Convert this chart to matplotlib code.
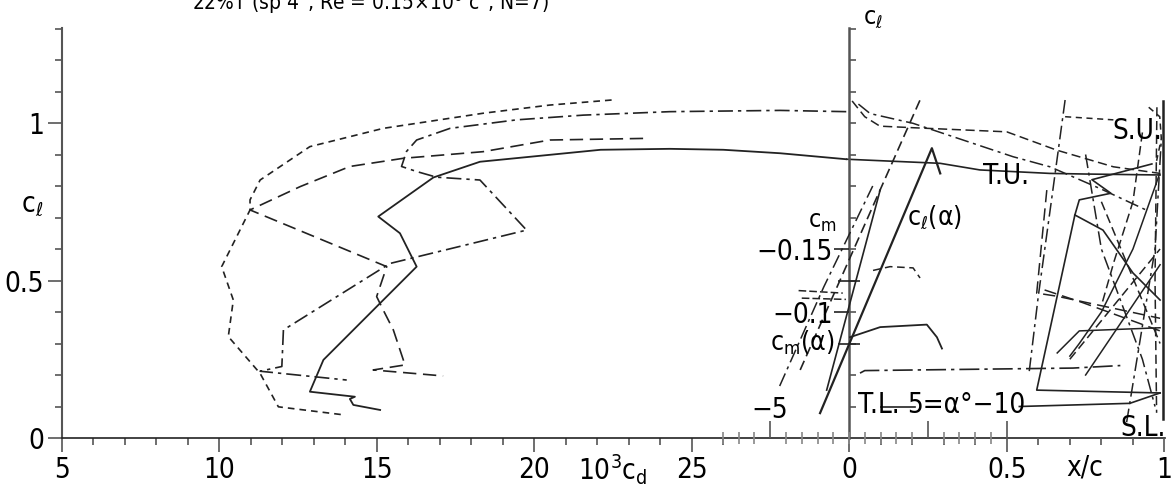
import matplotlib
matplotlib.use("Agg")
from matplotlib import pyplot as plt
import numpy as np

plt.rcParams['font.family'] = ['DejaVu Sans']
plt.rcParams['font.stretch'] = 'condensed'
plt.rcParams['mathtext.fontset'] = 'custom'
plt.rcParams['mathtext.rm'] = 'DejaVu Sans:stretch=condensed'
plt.rcParams['mathtext.it'] = 'DejaVu Sans:stretch=condensed'

INK = '#222222'
AXC = '#555555'
DD = (9, 3, 2, 3)

# ---- drag polars: 10^3 cd vs cl ----
solid_cd = [15.10, 14.25, 14.14, 14.30, 12.87, 13.30, 16.26, 15.73, 15.04, 16.79, 18.27, 22.1, 24.3, 26.0, 27.8, 29.9]
solid_cl = [0.089, 0.105, 0.124, 0.131, 0.147, 0.248, 0.544, 0.650, 0.703, 0.827, 0.877, 0.915, 0.918, 0.915, 0.904, 0.885]

dash_cd = [22.45, 20.49, 18.37, 15.2, 12.87, 11.29, 10.97, 10.97, 10.07, 10.44, 10.28, 11.29, 11.87, 13.98]
dash_cl = [1.073, 1.057, 1.031, 0.983, 0.925, 0.819, 0.756, 0.724, 0.544, 0.438, 0.322, 0.205, 0.099, 0.073]

ldash_cd = [23.45, 20.49, 18.37, 15.84, 14.14, 12.56, 10.97, 15.31, 14.99, 15.2, 15.52, 15.89, 14.88, 17.1]
ldash_cl = [0.951, 0.946, 0.909, 0.888, 0.862, 0.798, 0.724, 0.544, 0.449, 0.406, 0.343, 0.232, 0.216, 0.197]

dd_cd = [29.9, 27.8, 24.3, 21.55, 19.43, 17.32, 16.26, 15.94, 15.78, 16.26, 16.89, 18.27, 19.75, 15.41, 12.03, 11.98, 11.29, 14.04]
dd_cl = [1.036, 1.040, 1.036, 1.025, 1.010, 0.983, 0.946, 0.910, 0.862, 0.846, 0.828, 0.819, 0.660, 0.554, 0.343, 0.227, 0.212, 0.184]

# ---- lift and moment vs alpha ----
cla_solid_a = [-1.84, 5.25, 5.78]
cla_solid_cl = [0.079, 0.92, 0.84]
cla_steep_a = [-1.42, 1.97]
cla_steep_cl = [0.152, 0.787]
cla_dash_a = [-3.1, 4.5]
cla_dash_cl = [0.216, 1.073]
cla_dash2_a = [-4.4, -1.6, 1.5]
cla_dash2_cl = [0.165, 0.48, 0.80]

cma_solid_a = [0.06, 1.97, 4.93, 5.57, 5.89]
cma_solid_cm = [-0.080, -0.088, -0.090, -0.080, -0.071]
cma_dash_a = [1.52, 2.6, 4.06, 4.5]
cma_dash_cm = [-0.133, -0.136, -0.135, -0.127]
cma_neg1_a = [-3.2, -0.4]
cma_neg1_cm = [-0.117, -0.115]
cma_neg2_a = [-3.0, -0.2]
cma_neg2_cm = [-0.111, -0.110]

# ---- transition / separation x/c vs cl ----
tu_xc = [-0.007, 0.289, 0.415, 0.636, 0.75, 0.986]
tu_cl = [0.885, 0.872, 0.851, 0.840, 0.838, 0.835]
r2_xc = [0.01, 0.05, 0.098, 0.204, 0.5, 0.658, 0.838, 0.986]
r2_cl = [1.07, 1.02, 0.99, 0.985, 0.972, 0.914, 0.861, 0.84]
r3_xc = [0.03, 0.067, 0.203, 0.52, 0.637, 0.8, 0.95]
r3_cl = [1.06, 1.03, 0.999, 0.893, 0.861, 0.79, 0.72]
r4_xc = [0.685, 0.642, 0.60, 0.57]
r4_cl = [1.073, 0.756, 0.45, 0.20]
su_xc = [0.685, 0.838]
su_cl = [1.02, 1.01]
r6_xc = [0.96, 0.77, 0.83, 0.73, 0.716, 0.595, 0.986]
r6_cl = [0.87, 0.82, 0.777, 0.756, 0.708, 0.152, 0.143]
r7_xc = [0.716, 0.805, 0.90, 0.986]
r7_cl = [0.708, 0.66, 0.524, 0.438]
r8_xc = [0.035, 0.05, 0.71, 0.86]
r8_cl = [0.206, 0.214, 0.222, 0.23]
tl_xc = [0.54, 0.89, 0.986]
tl_cl = [0.10, 0.11, 0.143]
tl2_xc = [0.10, 0.21]
tl2_cl = [0.10, 0.10]
r10_xc = [0.627, 0.595, 0.66, 0.986]
r10_cl = [0.787, 0.46, 0.45, 0.38]
r11_xc = [0.70, 0.986]
r11_cl = [0.25, 0.60]
r12_xc = [0.75, 0.986]
r12_cl = [0.20, 0.55]
r13_xc = [0.80, 0.986]
r13_cl = [0.75, 0.30]
r14_xc = [0.88, 0.97, 0.99]
r14_cl = [0.05, 0.60, 0.95]
r16_xc = [0.62, 0.74, 0.986]
r16_cl = [0.47, 0.43, 0.34]
r17_xc = [0.75, 0.80, 0.93, 0.97]
r17_cl = [0.90, 0.60, 0.25, 0.10]
r18_xc = [0.985, 0.90, 0.80, 0.73, 0.70]
r18_cl = [0.84, 0.60, 0.40, 0.30, 0.26]
r19_xc = [0.93, 0.90, 0.84, 0.80]
r19_cl = [0.97, 0.75, 0.56, 0.42]
r20_xc = [0.66, 0.73, 0.986]
r20_cl = [0.27, 0.34, 0.35]
r21_xc = [0.976, 0.97, 0.975]
r21_cl = [1.05, 0.50, 0.08]
r22_xc = [0.95, 0.985, 0.99, 0.975]
r22_cl = [1.05, 1.02, 0.95, 0.88]
edge_xc = [0.995, 0.995]
edge_cl = [0.06, 1.07]

cd_ticks = [5, 10, 15, 20, 25]
cl_ticks = [0, 0.5, 1]
xc_ticks = [0, 0.5, 1]
cm_ticks = [-0.15, -0.1]

W, H = 1175, 495
fig = plt.figure(figsize=(W / 100, H / 100), dpi=100)
rect = [62 / W, 57 / H, 1103 / W, 410 / H]

ax = fig.add_axes(rect)
ax.set_xlim(5, 40.02)
ax.set_ylim(0, 1.3016)
ax.patch.set_visible(False)
for s in ['top', 'right']:
    ax.spines[s].set_visible(False)
ax.spines['left'].set_color(AXC)
ax.spines['bottom'].set_color(INK)
ax.spines['left'].set_linewidth(1.5)
ax.spines['bottom'].set_linewidth(1.2)
ax.set_xticks(cd_ticks)
ax.set_xticks(np.arange(6, 27), minor=True)
ax.set_yticks(cl_ticks)
ax.set_yticklabels(['0', '0.5', '1'])
ax.set_yticks(np.arange(0.1, 1.31, 0.1), minor=True)
ax.tick_params(axis='both', which='major', direction='out', length=10, width=1.2, color=AXC, labelsize=20, pad=3)
ax.tick_params(axis='both', which='minor', direction='out', length=5, width=1.2, color=AXC)

ax.plot(solid_cd, solid_cl, color=INK, lw=1.3)
ax.plot(dash_cd, dash_cl, color=INK, lw=1.2, dashes=(4, 3))
ax.plot(ldash_cd, ldash_cl, color=INK, lw=1.2, dashes=(8, 4))
ax.plot(dd_cd, dd_cl, color=INK, lw=1.2, dashes=DD)

# x/c panel
ax2 = fig.add_axes(rect)
ax2.set_xlim(-2.494, 1.0016)
ax2.set_ylim(0, 1.3016)
ax2.patch.set_visible(False)
for s in ['top', 'right', 'bottom']:
    ax2.spines[s].set_visible(False)
ax2.spines['left'].set_position(('data', 0))
ax2.spines['left'].set_color(AXC)
ax2.spines['left'].set_linewidth(1.8)
ax2.set_xticks(xc_ticks)
ax2.set_xticklabels(['0', '0.5', '1'])
ax2.set_xticks(np.arange(0.1, 1.0, 0.1), minor=True)
ax2.set_yticks(np.arange(0.1, 1.31, 0.1))
ax2.set_yticklabels([])
ax2.tick_params(axis='x', which='major', direction='out', length=10, width=1.2, color=AXC, labelsize=20, pad=3)
ax2.tick_params(axis='x', which='minor', direction='out', length=5, width=1.2, color=AXC)
ax2.tick_params(axis='y', direction='in', length=5, width=1.2, color=AXC)

lines_xc = [
    (tu_xc, tu_cl, None, 1.2), (r2_xc, r2_cl, (6, 3), 1.1), (r3_xc, r3_cl, DD, 1.1),
    (r4_xc, r4_cl, DD, 1.1), (su_xc, su_cl, (4, 3), 1.1), (r6_xc, r6_cl, None, 1.2),
    (r7_xc, r7_cl, None, 1.2), (r8_xc, r8_cl, (12, 3, 2, 3), 1.2), (tl_xc, tl_cl, None, 1.2),
    (tl2_xc, tl2_cl, None, 1.2), (r10_xc, r10_cl, (8, 4), 1.1), (r11_xc, r11_cl, (6, 3), 1.1),
    (r12_xc, r12_cl, None, 1.1), (r13_xc, r13_cl, (6, 3), 1.1), (r14_xc, r14_cl, DD, 1.1),
    (r16_xc, r16_cl, (8, 4), 1.1), (r17_xc, r17_cl, DD, 1.1), (r18_xc, r18_cl, None, 1.1),
    (r19_xc, r19_cl, (6, 3), 1.1), (r20_xc, r20_cl, None, 1.1), (r21_xc, r21_cl, (6, 3), 1.1),
    (r22_xc, r22_cl, (4, 3), 1.1), (edge_xc, edge_cl, None, 1.8),
]
for xs, ys, d, lw in lines_xc:
    if d is None:
        ax2.plot(xs, ys, color=INK, lw=lw)
    else:
        ax2.plot(xs, ys, color=INK, lw=lw, dashes=d)

# alpha panel, lift
ax3 = fig.add_axes(rect)
ax3.set_xlim(-49.9, 20.03)
ax3.set_ylim(0, 1.3016)
ax3.axis('off')
ax3.plot(cla_solid_a, cla_solid_cl, color=INK, lw=1.6)
ax3.plot(cla_steep_a, cla_steep_cl, color=INK, lw=1.2)
ax3.plot(cla_dash_a, cla_dash_cl, color=INK, lw=1.2, dashes=(6, 3))
ax3.plot(cla_dash2_a, cla_dash2_cl, color=INK, lw=1.1, dashes=DD)

# alpha panel, moment (cm axis points up to negative values)
ax4 = fig.add_axes(rect)
ax4.set_xlim(-49.9, 20.03)
ax4.set_ylim(0, -0.3254)
ax4.patch.set_visible(False)
for s in ['top', 'right', 'left', 'bottom']:
    ax4.spines[s].set_visible(False)
ax4.spines['left'].set_position(('data', 0))
ax4.set_xticks([-5, 5, 10])
ax4.set_xticks([a for a in range(-8, 11) if a not in (-5, 5, 10)], minor=True)
ax4.set_xticklabels([])
ax4.tick_params(axis='x', which='major', direction='in', length=12, width=1.2, color=AXC)
ax4.tick_params(axis='x', which='minor', direction='inout', length=9, width=1.2, color='#888888')
ax4.set_yticks(cm_ticks)
ax4.set_yticklabels(['−0.15', '−0.1'])
ax4.set_yticks([-0.125, -0.075], minor=True)
ax4.tick_params(axis='y', which='major', direction='out', length=11, width=1.2, color=INK, labelsize=20, pad=1)
ax4.tick_params(axis='y', which='minor', direction='inout', length=16, width=1.2, color=INK)
ax4.plot(cma_solid_a, cma_solid_cm, color=INK, lw=1.3)
ax4.plot(cma_dash_a, cma_dash_cm, color=INK, lw=1.1, dashes=(5, 3))
ax4.plot(cma_neg1_a, cma_neg1_cm, color=INK, lw=1.1, dashes=(5, 2))
ax4.plot(cma_neg2_a, cma_neg2_cm, color=INK, lw=1.1, dashes=(5, 2))


def px(x, y):
    return x / W, 1 - y / H


fs = 20
fig.text(*px(192, 10), '22%T (sp 4°, Re = 0.15×10$^6$ c°, N=7)', fontsize=15, va='baseline', ha='left')
fig.text(*px(32, 205), r'$\mathrm{c_ℓ}$', fontsize=fs, ha='center', va='center')
fig.text(*px(613, 470), r'$\mathrm{10^3c_d}$', fontsize=fs, ha='center', va='center')
fig.text(*px(873, 18), r'$\mathrm{c_ℓ}$', fontsize=fs - 2, ha='center', va='center')
fig.text(*px(822, 222), r'$\mathrm{c_m}$', fontsize=fs - 2, ha='center', va='center')
fig.text(*px(834, 343), r'$\mathrm{c_m(α)}$', fontsize=fs - 1, ha='right', va='center')
fig.text(*px(907, 217), r'$\mathrm{c_ℓ(α)}$', fontsize=fs - 1, ha='left', va='center')
fig.text(*px(983, 176), 'T.U.', fontsize=fs, ha='left', va='center')
fig.text(*px(1112, 131), 'S.U.', fontsize=fs, ha='left', va='center')
fig.text(*px(858, 405), 'T.L.', fontsize=fs, ha='left', va='center')
fig.text(*px(966, 405), '5=α°−10', fontsize=fs, ha='center', va='center')
fig.text(*px(770, 410), '−5', fontsize=fs, ha='center', va='center')
fig.text(*px(1143, 428), 'S.L.', fontsize=fs, ha='center', va='center')
fig.text(*px(1085, 468), 'x/c', fontsize=fs, ha='center', va='center')

fig.savefig('out.png', dpi=100)
